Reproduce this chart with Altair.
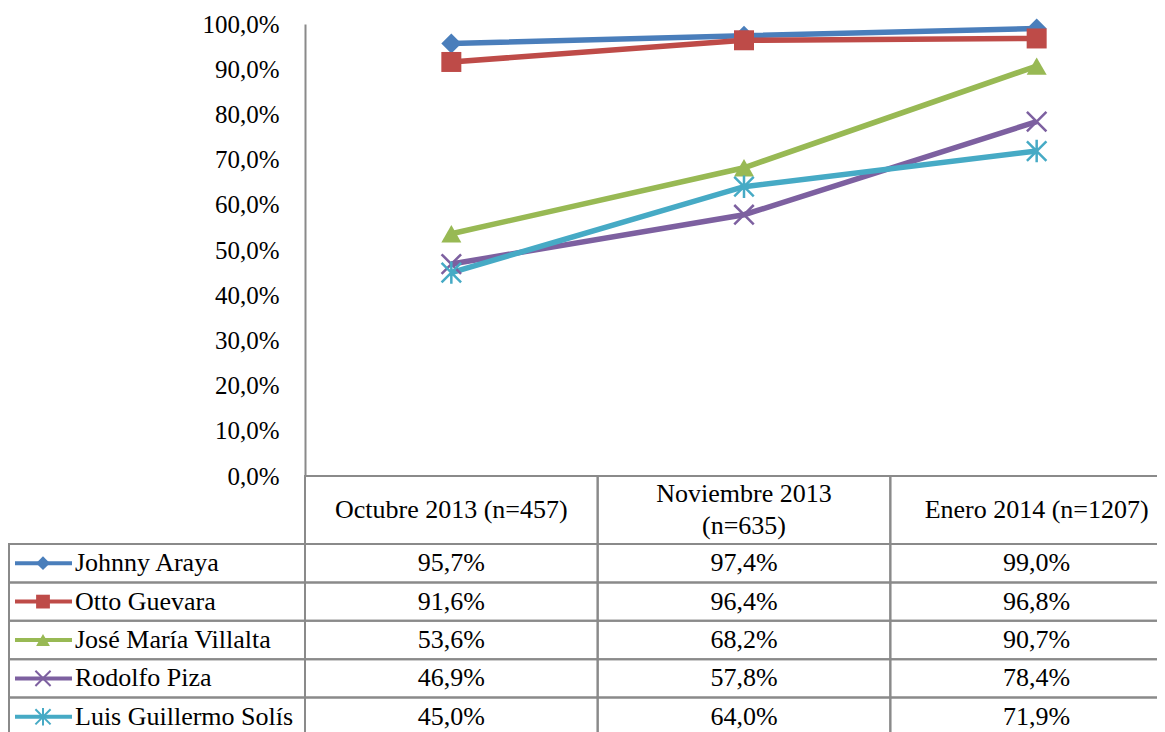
import altair as alt
import pandas as pd

# ---------------- data ----------------
categories = ["Octubre 2013 (n=457)", "Noviembre 2013\n(n=635)", "Enero 2014 (n=1207)"]
candidates = ["Johnny Araya", "Otto Guevara", "José María Villalta", "Rodolfo Piza", "Luis Guillermo Solís"]
johnny_araya = [95.7, 97.4, 99.0]
otto_guevara = [91.6, 96.4, 96.8]
jose_maria_villalta = [53.6, 68.2, 90.7]
rodolfo_piza = [46.9, 57.8, 78.4]
luis_guillermo_solis = [45.0, 64.0, 71.9]
y_ticks = [0, 10, 20, 30, 40, 50, 60, 70, 80, 90, 100]

# ---------------- styles ----------------
colors = ["#4A7EBB", "#BE4B48", "#98B954", "#7D60A0", "#46AAC5"]
X_PATH = "M-1,-1L1,1M-1,1L1,-1"
STAR_PATH = "M-1,-1L1,1M-1,1L1,-1M0,-1.15L0,1.15"
shapes = ["diamond", "square", "triangle-up", X_PATH, STAR_PATH]
filled_flags = [True, True, True, False, False]
GRID = "#8a8a8a"
FONT = "Liberation Serif"

series = [johnny_araya, otto_guevara, jose_maria_villalta, rodolfo_piza, luis_guillermo_solis]
rows = []
for name, vals, sh, f in zip(candidates, series, shapes, filled_flags):
    for cat, v in zip(categories, vals):
        rows.append({"candidate": name, "period": cat, "value": v, "shape": sh, "filled": f})
df = pd.DataFrame(rows)
cand_df = pd.DataFrame({"candidate": candidates, "shape": shapes, "filled": filled_flags})
cat_df = pd.DataFrame({"period": categories})

# ---------------- scales ----------------
col_band = alt.Scale(type="band", domain=categories, range=[296, 1174], paddingInner=0, paddingOuter=0)
col_point = alt.Scale(type="point", domain=categories, range=[296, 1174], padding=0.5)
row_band = alt.Scale(type="band", domain=candidates, range=[520, 712], paddingInner=0, paddingOuter=0)
head_band = alt.Scale(type="band", domain=["header"], range=[452, 520], paddingInner=0, paddingOuter=0)
lab_band = alt.Scale(type="band", domain=["label"], range=[0, 296], paddingInner=0, paddingOuter=0)
y_lin = alt.Scale(domain=[0, 100], range=[452, 0], nice=False, zero=True)
color_scale = alt.Scale(domain=candidates, range=colors)
color_enc = alt.Color("candidate:N", scale=color_scale, legend=None)

label_expr = "replace(format(datum.value, '.1f'), '.', ',') + '%'"

# ---------------- table ----------------
header_cells = alt.Chart(cat_df).transform_calculate(row="'header'").mark_rect(
    filled=False, stroke=GRID, strokeWidth=2
).encode(
    x=alt.X("period:N", scale=col_band, axis=None),
    y=alt.Y("row:N", scale=head_band, axis=None),
)
header_text_single = alt.Chart(cat_df).transform_calculate(row="'header'").transform_filter(
    "indexof(datum.period, '\\n') < 0"
).mark_text(
    font=FONT, fontSize=26, color="black", baseline="middle"
).encode(
    x=alt.X("period:N", scale=col_band, axis=None),
    y=alt.Y("row:N", scale=head_band, axis=None),
    text="period:N",
)
header_text_multi = alt.Chart(cat_df).transform_calculate(row="'header'").transform_filter(
    "indexof(datum.period, '\\n') >= 0"
).mark_text(
    font=FONT, fontSize=26, lineBreak="\n", lineHeight=32, dy=-16, color="black", baseline="middle"
).encode(
    x=alt.X("period:N", scale=col_band, axis=None),
    y=alt.Y("row:N", scale=head_band, axis=None),
    text="period:N",
)
body_cells = alt.Chart(df).mark_rect(filled=False, stroke=GRID, strokeWidth=2).encode(
    x=alt.X("period:N", scale=col_band, axis=None),
    y=alt.Y("candidate:N", scale=row_band, axis=None),
)
body_text = alt.Chart(df).transform_calculate(
    label="replace(format(datum.value, '.1f'), '.', ',') + '%'"
).mark_text(font=FONT, fontSize=26, color="black", baseline="middle").encode(
    x=alt.X("period:N", scale=col_band, axis=None),
    y=alt.Y("candidate:N", scale=row_band, axis=None),
    text="label:N",
)
label_cells = alt.Chart(cand_df).transform_calculate(col="'label'").mark_rect(
    filled=False, stroke=GRID, strokeWidth=2
).encode(
    x=alt.X("col:N", scale=lab_band, axis=None),
    y=alt.Y("candidate:N", scale=row_band, axis=None),
)
legend_line = alt.Chart(cand_df).mark_rule(strokeWidth=4).encode(
    x=alt.value(6), x2=alt.value(63),
    y=alt.Y("candidate:N", scale=row_band, axis=None),
    color=color_enc,
)
legend_pts_f = alt.Chart(cand_df).transform_filter("datum.filled").mark_point(
    filled=True, size=190, opacity=1
).encode(
    x=alt.value(34),
    y=alt.Y("candidate:N", scale=row_band, axis=None),
    color=color_enc,
    shape=alt.Shape("shape:N", scale=None),
)
legend_pts_s = alt.Chart(cand_df).transform_filter("!datum.filled").mark_point(
    filled=False, size=230, opacity=1, strokeWidth=2
).encode(
    x=alt.value(34),
    y=alt.Y("candidate:N", scale=row_band, axis=None),
    color=color_enc,
    shape=alt.Shape("shape:N", scale=None),
)
legend_text = alt.Chart(cand_df).mark_text(
    font=FONT, fontSize=26, color="black", align="left", baseline="middle"
).encode(
    x=alt.value(66),
    y=alt.Y("candidate:N", scale=row_band, axis=None),
    text="candidate:N",
)

# ---------------- chart ----------------
lines = alt.Chart(df).mark_line(strokeWidth=5.5).encode(
    x=alt.X("period:N", scale=col_point, axis=None),
    y=alt.Y(
        "value:Q", scale=y_lin, title="",
        axis=alt.Axis(
            orient="left", offset=-296, values=y_ticks, labelExpr=label_expr,
            ticks=False, tickSize=0, labelPadding=26, grid=False,
            domainColor=GRID, domainWidth=2, labelFont=FONT, labelFontSize=25,
            labelColor="black", title="",
        ),
    ),
    color=color_enc,
)
pts_f = alt.Chart(df).transform_filter("datum.filled").mark_point(
    filled=True, size=400, opacity=1
).encode(
    x=alt.X("period:N", scale=col_point, axis=None),
    y=alt.Y("value:Q", scale=y_lin, axis=None),
    color=color_enc,
    shape=alt.Shape("shape:N", scale=None),
)
pts_s = alt.Chart(df).transform_filter("!datum.filled").mark_point(
    filled=False, size=380, opacity=1, strokeWidth=2.5
).encode(
    x=alt.X("period:N", scale=col_point, axis=None),
    y=alt.Y("value:Q", scale=y_lin, axis=None),
    color=color_enc,
    shape=alt.Shape("shape:N", scale=None),
)

chart = alt.layer(
    header_cells, body_cells, label_cells, header_text_single, header_text_multi, body_text,
    legend_line, legend_pts_f, legend_pts_s, legend_text,
    lines, pts_f, pts_s,
).resolve_scale(
    x="independent", y="independent"
).properties(
    width=1148, height=708,
    autosize=alt.AutoSizeParams(type="none"),
    padding={"left": 1, "top": 16, "right": 0, "bottom": 0},
).configure_view(strokeWidth=0)

chart.save("out.html", embed_options={"renderer": "svg", "actions": False})
